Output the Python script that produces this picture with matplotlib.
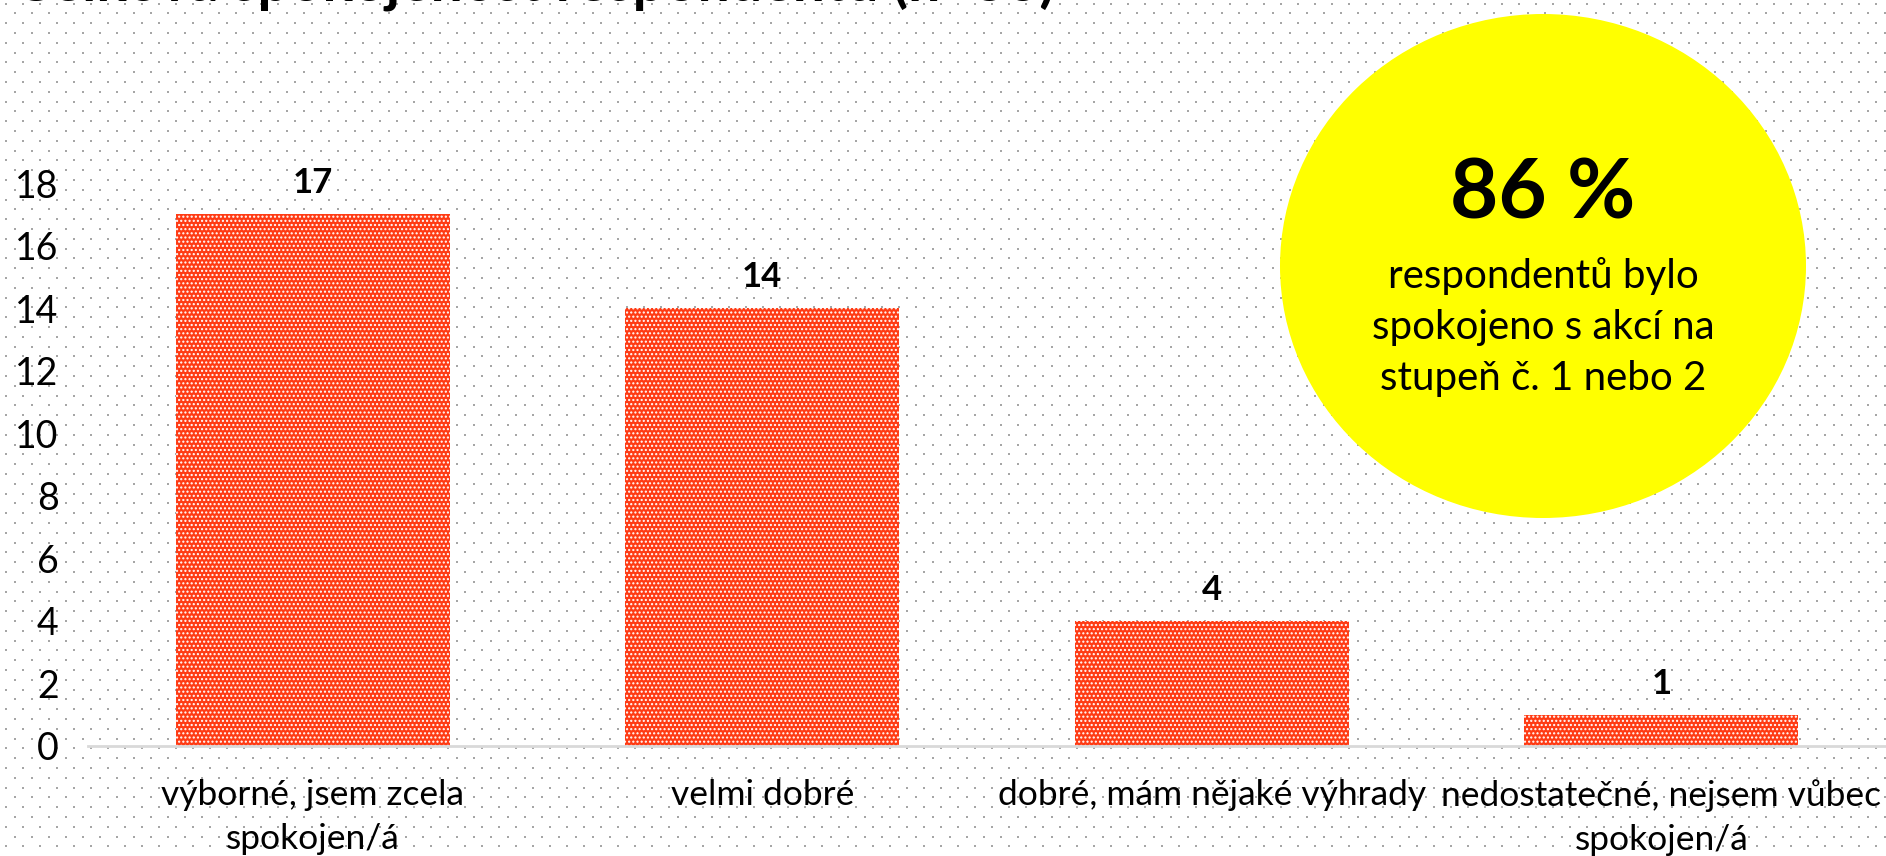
import numpy as np
import matplotlib
matplotlib.use('Agg')
import matplotlib.pyplot as plt
from matplotlib.patches import Ellipse

# - Data -
categories = ['výborné, jsem zcela\nspokojen/á', 'velmi dobré',
              'dobré, mám nějaké výhrady', 'nedostatečné, nejsem vůbec\nspokojen/á']
counts = [17, 14, 4, 1]
yticks = [0, 2, 4, 6, 8, 10, 12, 14, 16, 18]
title = 'Celková spokojenost respondentů (n=36)'
big_number = '86 %'
circle_lines = ['respondentů bylo', 'spokojeno s akcí na', 'stupeň č. 1 nebo 2']

plt.rcParams['font.family'] = ['Lato', 'DejaVu Sans']
plt.rcParams['hatch.linewidth'] = 1.0

W, H = 1886, 856
fig = plt.figure(figsize=(W / 100, H / 100), dpi=100)

# - Dotted background -
bg = fig.add_axes([0, 0, 1, 1], zorder=0)
bg.set_xlim(0, W)
bg.set_ylim(H, 0)
bg.axis('off')
rows = np.arange(3.5, H, 9.8)
px, py = [], []
for i, yy in enumerate(rows):
    xs = np.arange(6 + (8.5 if i % 2 else 0), W, 17)
    px.extend(xs)
    py.extend([yy] * len(xs))
bg.scatter(px, py, s=2.2, marker='s', color='#a6a6a6', linewidths=0)

# - Bar chart -
ax = fig.add_axes([88 / W, 110 / H, 1 - 88 / W, (746 - 183) / H], zorder=1)
ax.patch.set_alpha(0)
x = np.arange(len(categories))
bars = ax.bar(x, counts, width=0.61, color='#ff3b14', edgecolor='white',
              linewidth=0, hatch='....')
for xi, v in zip(x, counts):
    ax.annotate(str(v), (xi, v), xytext=(0, 15), textcoords='offset points',
                ha='center', va='baseline', fontsize=25, fontweight='bold')

ax.set_xlim(-0.5, len(categories) - 0.5)
ax.set_ylim(0, 18)
ax.set_yticks(yticks)
ax.set_xticks(x)
ax.set_xticklabels(categories, fontsize=25.5, linespacing=1.45)
ax.tick_params(axis='y', length=0, labelsize=27, pad=21)
ax.tick_params(axis='x', length=0, pad=24)
for s in ['left', 'right', 'top']:
    ax.spines[s].set_visible(False)
ax.spines['bottom'].set_color('#d9d9d9')
ax.spines['bottom'].set_linewidth(2)

# - Overlay: title and yellow circle -
ov = fig.add_axes([0, 0, 1, 1], zorder=3)
ov.set_xlim(0, W)
ov.set_ylim(H, 0)
ov.axis('off')
ov.patch.set_alpha(0)
ov.text(14, 0, title, fontsize=41, fontweight='bold', ha='left', va='baseline')
ov.add_patch(Ellipse((1543, 266), 526, 504, color='#ffff00', linewidth=0))
ov.text(1543, 195, big_number, fontsize=60, fontweight='bold', ha='center', va='center')
for i, line in enumerate(circle_lines):
    ov.text(1543, 276 + 51 * i, line, fontsize=29, ha='center', va='center')

fig.savefig('out.png', dpi=100)
